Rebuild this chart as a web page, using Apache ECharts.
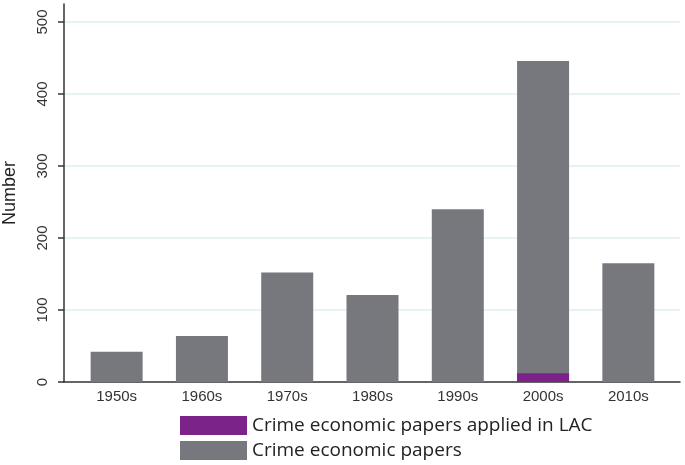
<!DOCTYPE html>
<html>
<head>
<meta charset="utf-8">
<script src="https://cdn.jsdelivr.net/npm/echarts@6/dist/echarts.min.js"></script>
<style>html,body{margin:0;padding:0;background:#fff;}#c{width:685px;height:465px;}</style>
</head>
<body>
<div id="c"></div>
<script>
const categories = ['1950s', '1960s', '1970s', '1980s', '1990s', '2000s', '2010s'];
const crimePapers = [42, 64, 152, 121, 240, 446, 165];
const lacPapers = [0, 0, 0, 0, 0, 12, 0];
const yTicks = [0, 100, 200, 300, 400, 500];
const seriesNames = ['Crime economic papers applied in LAC', 'Crime economic papers'];

const chart = echarts.init(document.getElementById('c'), null, {renderer: 'canvas'});
const grid = '#e1eef1';
const legendBase = {
  orient: 'vertical', left: 180,
  itemWidth: 67, itemHeight: 19, itemGap: 6, icon: 'rect', padding: 0,
  textStyle: {fontFamily: 'Open Sans', fontSize: 19, color: '#222'}
};
chart.setOption({
  animation: false,
  backgroundColor: '#ffffff',
  grid: [
    {left: 64, right: 5, top: 4, bottom: 83, outerBoundsMode: 'none'},
    {left: 74, right: 14, top: 4, bottom: 83, outerBoundsMode: 'none'}
  ],
  legend: [
    Object.assign({}, legendBase, {data: [seriesNames[0]], top: 416}),
    Object.assign({}, legendBase, {data: [seriesNames[1]], top: 441})
  ],
  xAxis: [
    {
      gridIndex: 0, type: 'value', min: 0, max: 1,
      axisLine: {show: true, onZero: false, lineStyle: {color: '#333', width: 1.5}},
      axisTick: {show: false}, axisLabel: {show: false}, splitLine: {show: false}
    },
    {
      gridIndex: 1, type: 'category', data: categories, boundaryGap: true,
      axisLine: {show: false}, axisTick: {show: false}, splitLine: {show: false},
      axisLabel: {fontFamily: 'Liberation Sans', fontSize: 15, color: '#333', margin: 7}
    }
  ],
  yAxis: [
    {
      gridIndex: 0, type: 'value', min: 0, max: 525, interval: 100,
      name: 'Number', nameLocation: 'middle', nameGap: 45,
      nameTextStyle: {fontFamily: 'Liberation Sans', fontSize: 18, color: '#222'},
      axisLine: {show: true, onZero: false, lineStyle: {color: '#333', width: 1.5}},
      axisTick: {show: true, customValues: yTicks, length: 6, lineStyle: {color: '#333', width: 1.5}},
      axisLabel: {
        customValues: yTicks, rotate: 90, margin: 14,
        fontFamily: 'Liberation Sans', fontSize: 15, color: '#333'
      },
      splitLine: {show: true, lineStyle: {color: ['rgba(0,0,0,0)', grid, grid, grid, grid, grid, 'rgba(0,0,0,0)'], width: 1.5}}
    },
    {
      gridIndex: 1, type: 'value', min: 0, max: 525,
      axisLine: {show: false}, axisTick: {show: false}, axisLabel: {show: false}, splitLine: {show: false}
    }
  ],
  series: [
    {
      name: seriesNames[1], type: 'bar', barWidth: 52, xAxisIndex: 1, yAxisIndex: 1,
      itemStyle: {color: '#77787d'},
      data: crimePapers
    },
    {
      name: seriesNames[0], type: 'bar', barWidth: 52, barGap: '-100%', xAxisIndex: 1, yAxisIndex: 1,
      itemStyle: {color: '#7b2389'},
      data: lacPapers
    }
  ]
});
</script>
</body>
</html>
